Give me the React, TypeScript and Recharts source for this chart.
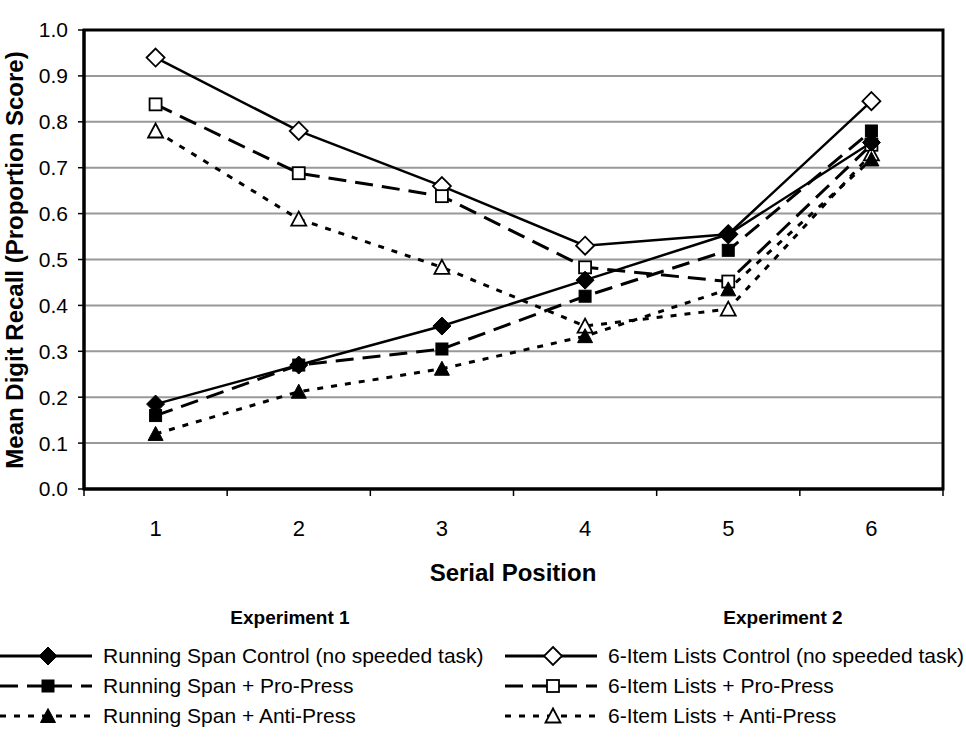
import React from 'react';
import { LineChart, Line, XAxis, YAxis, CartesianGrid, ReferenceArea } from 'recharts';

const POSITIONS = [1, 2, 3, 4, 5, 6];
const RS_CONTROL = [0.185, 0.27, 0.355, 0.455, 0.555, 0.755];
const RS_PRO = [0.16, 0.27, 0.305, 0.42, 0.52, 0.78];
const RS_ANTI = [0.12, 0.212, 0.262, 0.333, 0.435, 0.718];
const IL_CONTROL = [0.94, 0.78, 0.66, 0.53, 0.555, 0.845];
const IL_PRO = [0.838, 0.688, 0.638, 0.483, 0.452, 0.75];
const IL_ANTI = [0.78, 0.588, 0.483, 0.355, 0.392, 0.73];
const Y_TICKS = [0, 0.1, 0.2, 0.3, 0.4, 0.5, 0.6, 0.7, 0.8, 0.9, 1.0];
const X_EDGES = [0.5, 1.5, 2.5, 3.5, 4.5, 5.5, 6.5];

const EXP1_LABELS = [
  'Running Span Control (no speeded task)',
  'Running Span + Pro-Press',
  'Running Span + Anti-Press',
];
const EXP2_LABELS = [
  '6-Item Lists Control (no speeded task)',
  '6-Item Lists + Pro-Press',
  '6-Item Lists + Anti-Press',
];

const data = POSITIONS.map((p, i) => ({
  pos: p,
  rsControl: RS_CONTROL[i],
  rsPro: RS_PRO[i],
  rsAnti: RS_ANTI[i],
  ilControl: IL_CONTROL[i],
  ilPro: IL_PRO[i],
  ilAnti: IL_ANTI[i],
}));

const FONT = "Arial, 'Liberation Sans', sans-serif";
const W = 966;
const H = 738;
const M = { top: 30, right: 23, left: 0, bottom: 209 };
const Y_W = 84;
const PLOT_W = W - M.left - M.right - Y_W;
const HALF_BAND = PLOT_W / 6 / 2;

type Kind = 'diamond' | 'square' | 'triangle';

function Marker({ kind, filled, cx, cy }: { kind: Kind; filled: boolean; cx: number; cy: number }) {
  const fill = filled ? '#000' : '#fff';
  const sw = filled ? 1 : 1.8;
  if (kind === 'diamond') {
    const r = 9;
    return <polygon points={`${cx},${cy - r} ${cx + r},${cy} ${cx},${cy + r} ${cx - r},${cy}`} fill={fill} stroke="#000" strokeWidth={sw} />;
  }
  if (kind === 'square') {
    const s = 6;
    return <rect x={cx - s} y={cy - s} width={2 * s} height={2 * s} fill={fill} stroke="#000" strokeWidth={sw} />;
  }
  const h = 7.5;
  return <polygon points={`${cx},${cy - h} ${cx + 7.5},${cy + h - 1} ${cx - 7.5},${cy + h - 1}`} fill={fill} stroke="#000" strokeWidth={sw} />;
}

const dot = (kind: Kind, filled: boolean) => (props: any) => {
  const { cx, cy, index } = props;
  if (cx == null || cy == null) return <g key={index} />;
  return <Marker key={index} kind={kind} filled={filled} cx={cx} cy={cy} />;
};

const XTick = (props: any) => {
  const { x, y, payload, index } = props;
  const v = payload.value as number;
  const i = X_EDGES.indexOf(v);
  if (i < 0 || i >= POSITIONS.length) return <g key={index} />;
  return (
    <text key={index} x={x + HALF_BAND} y={y + 38} textAnchor="middle" fontSize={22} fontFamily={FONT} fill="#000">
      {String(POSITIONS[i])}
    </text>
  );
};

const DASH_PRO = '18 9';
const DASH_ANTI = '6 8';

function LegendRow({ x, y, dash, kind, filled, label }: { x: number; y: number; dash?: string; kind: Kind; filled: boolean; label: string }) {
  return (
    <g>
      <line x1={x} y1={y} x2={x + 92} y2={y} stroke="#000" strokeWidth={3} strokeDasharray={dash} />
      <Marker kind={kind} filled={filled} cx={x + 48} cy={y} />
      <text x={x + 103} y={y + 7} fontSize={21} fontFamily={FONT} fill="#000">{label}</text>
    </g>
  );
}

export default function App() {
  const kinds: Kind[] = ['diamond', 'square', 'triangle'];
  const dashes = [undefined, DASH_PRO, DASH_ANTI];
  return (
    <div style={{ position: 'absolute', left: 0, top: 0, width: W, height: H, background: '#fff' }}>
      <LineChart width={W} height={H} data={data} margin={M}>
        <CartesianGrid horizontal vertical={false} stroke="#999" strokeWidth={2} />
        <XAxis
          dataKey="pos"
          type="number"
          domain={[0.5, 6.5]}
          ticks={X_EDGES}
          interval={0}
          height={40}
          axisLine={{ stroke: '#000', strokeWidth: 3 }}
          tickLine={{ stroke: '#000', strokeWidth: 1.5 }}
          tickSize={7}
          tick={<XTick />}
          allowDataOverflow
        />
        <YAxis
          type="number"
          domain={[0, 1]}
          ticks={Y_TICKS}
          interval={0}
          width={Y_W}
          tickFormatter={(v: number) => v.toFixed(1)}
          axisLine={{ stroke: '#000', strokeWidth: 3 }}
          tickLine={{ stroke: '#000', strokeWidth: 1.5 }}
          tickSize={6}
          tickMargin={10}
          tick={{ fontSize: 21, fontFamily: FONT, fill: '#000' }}
          label={{
            content: () => (
              <text x={23} y={260} transform="rotate(-90 23 260)" textAnchor="middle" fontSize={24} fontWeight="bold" fontFamily={FONT} fill="#000">
                Mean Digit Recall (Proportion Score)
              </text>
            ),
          }}
        />
        <ReferenceArea x1={0.5} x2={6.5} y1={0} y2={1} fill="none" stroke="#000" strokeWidth={3} ifOverflow="visible" />
        <Line dataKey="ilControl" stroke="#000" strokeWidth={2.5} dot={dot('diamond', false)} isAnimationActive={false} />
        <Line dataKey="ilPro" stroke="#000" strokeWidth={3} strokeDasharray={DASH_PRO} dot={dot('square', false)} isAnimationActive={false} />
        <Line dataKey="ilAnti" stroke="#000" strokeWidth={3} strokeDasharray={DASH_ANTI} dot={dot('triangle', false)} isAnimationActive={false} />
        <Line dataKey="rsControl" stroke="#000" strokeWidth={2.5} dot={dot('diamond', true)} isAnimationActive={false} />
        <Line dataKey="rsPro" stroke="#000" strokeWidth={3} strokeDasharray={DASH_PRO} dot={dot('square', true)} isAnimationActive={false} />
        <Line dataKey="rsAnti" stroke="#000" strokeWidth={3} strokeDasharray={DASH_ANTI} dot={dot('triangle', true)} isAnimationActive={false} />
      </LineChart>
      <svg width={W} height={H} style={{ position: 'absolute', left: 0, top: 0, pointerEvents: 'none' }}>
        <text x={513} y={581} textAnchor="middle" fontSize={24} fontWeight="bold" fontFamily={FONT} fill="#000">Serial Position</text>
        <text x={290} y={624} textAnchor="middle" fontSize={19} fontWeight="bold" fontFamily={FONT} fill="#000">Experiment 1</text>
        <text x={783} y={624} textAnchor="middle" fontSize={19} fontWeight="bold" fontFamily={FONT} fill="#000">Experiment 2</text>
        {EXP1_LABELS.map((l, i) => (
          <LegendRow key={'a' + i} x={0} y={656 + i * 30} dash={dashes[i]} kind={kinds[i]} filled label={l} />
        ))}
        {EXP2_LABELS.map((l, i) => (
          <LegendRow key={'b' + i} x={505} y={656 + i * 30} dash={dashes[i]} kind={kinds[i]} filled={false} label={l} />
        ))}
      </svg>
    </div>
  );
}
